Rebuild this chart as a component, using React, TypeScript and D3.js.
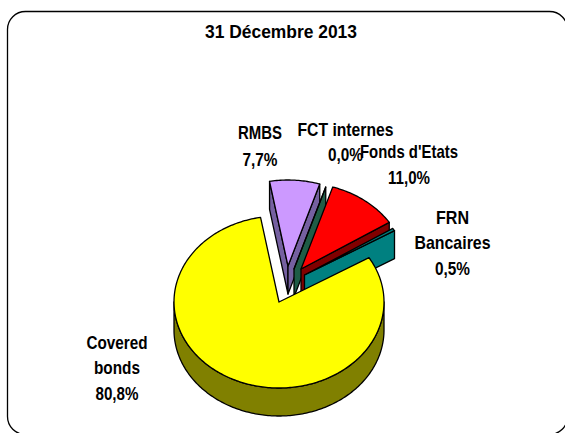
import * as d3 from "d3";

const categories = ["Covered bonds", "RMBS", "FCT internes", "Fonds d'Etats", "FRN Bancaires"];
const shares = [80.8, 7.7, 0.0, 11.0, 0.5];
const topColors = ["#ffff00", "#cc99ff", "#2f6650", "#ff0000", "#008080"];
const wallColors = ["#808000", "#7560a0", "#1f5c46", "#800000", "#008080"];
const offsetX = [0, 9, 15, 22, 25.5];
const offsetY = [0, -36, -33, -33, -27];
const drawOrder = [1, 2, 3, 4, 0];

const title = "31 Décembre 2013";
const labels = [
  { lines: ["RMBS", "7,7%"], x: 260, ys: [139, 166], ws: [44, 35] },
  { lines: ["FCT internes", "0,0%"], x: 345.5, ys: [136, 161], ws: [96, 35] },
  { lines: ["Fonds d'Etats", "11,0%"], x: 409, ys: [158, 184], ws: [98, 42] },
  { lines: ["FRN", "Bancaires", "0,5%"], x: 452.5, ys: [224, 249, 275], ws: [33, 76, 35] },
  { lines: ["Covered", "bonds", "80,8%"], x: 117, ys: [349, 374, 400], ws: [61, 46, 43] },
];

const W = 565, H = 433;
const cx = 279, cy = 302, rx = 105, ry = 86, depth = 28;
const deg = Math.PI / 180;

const pie = d3.pie<number>().sort(null).startAngle(59 * deg).endAngle((59 + 360) * deg);
const arcs = pie(shares);
const sx = d3.scaleLinear().domain([-1, 1]).range([cx - rx, cx + rx]);
const sy = d3.scaleLinear().domain([-1, 1]).range([cy + ry, cy - ry]);
const line = d3.line();

function pt(a: number, i: number, dz = 0): [number, number] {
  return [sx(Math.sin(a)) + offsetX[i], sy(Math.cos(a)) + offsetY[i] + dz];
}
function apex(i: number, dz = 0): [number, number] {
  return [sx(0) + offsetX[i], sy(0) + offsetY[i] + dz];
}
function sample(a0: number, a1: number): number[] {
  const n = Math.max(2, Math.ceil(Math.abs(a1 - a0) / (1 * deg)));
  return d3.range(n + 1).map((k) => a0 + ((a1 - a0) * k) / n);
}
const tau = 2 * Math.PI;

function Slice({ i }: { i: number }) {
  const a0 = arcs[i].startAngle, a1 = arcs[i].endAngle;
  const stroke = { stroke: "#000", strokeWidth: 1.3, strokeLinejoin: "round" as const };
  const walls: any[] = [];
  if (Math.sin(a0) < 0) {
    const p = [apex(i), pt(a0, i), pt(a0, i, depth), apex(i, depth)];
    walls.push(<path key="s" d={line(p) + "Z"} fill={wallColors[i]} {...stroke} />);
  }
  if (Math.sin(a1) > 0 && a1 - a0 < Math.PI) {
    const p = [apex(i), pt(a1, i), pt(a1, i, depth), apex(i, depth)];
    walls.push(<path key="e" d={line(p) + "Z"} fill={wallColors[i]} {...stroke} />);
  }
  for (const k of [0, 1]) {
    const lo = Math.max(a0, Math.PI / 2 + k * tau);
    const hi = Math.min(a1, 1.5 * Math.PI + k * tau);
    if (hi > lo) {
      const as = sample(lo, hi);
      const p = [...as.map((a) => pt(a, i)), ...as.slice().reverse().map((a) => pt(a, i, depth))];
      walls.push(<path key={"o" + k} d={line(p) + "Z"} fill={wallColors[i]} {...stroke} />);
    }
  }
  const top = [apex(i), ...sample(a0, a1).map((a) => pt(a, i))];
  return (
    <g>
      {walls}
      <path d={line(top) + "Z"} fill={topColors[i]} {...stroke} />
    </g>
  );
}

const font = { fontFamily: "'Liberation Sans', Arial, sans-serif", fontWeight: 700, fontSize: 18.5, fill: "#000" };

export default function App() {
  return (
    <svg width={W} height={H} viewBox={`0 0 ${W} ${H}`} style={{ position: "fixed", left: 0, top: 0, background: "#fff" }}>
      <rect x={7.5} y={11.5} width={560} height={423} rx={18} ry={18} fill="#fff" stroke="#000" strokeWidth={1.3} />
      <text x={281} y={37.5} textAnchor="middle" textLength={152} lengthAdjust="spacingAndGlyphs" {...font}>{title}</text>
      {drawOrder.map((i) => <Slice key={categories[i]} i={i} />)}
      {labels.map((l) =>
        l.lines.map((t, j) => (
          <text key={l.lines[0] + j} x={l.x} y={l.ys[j]} textAnchor="middle" textLength={l.ws[j]} lengthAdjust="spacingAndGlyphs" {...font}>{t}</text>
        ))
      )}
    </svg>
  );
}
